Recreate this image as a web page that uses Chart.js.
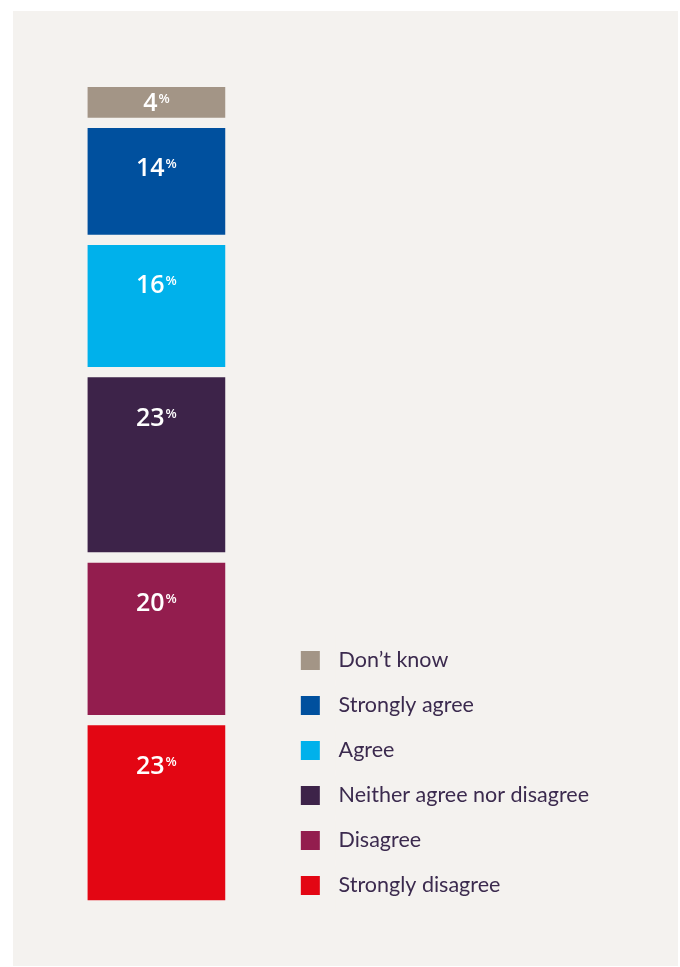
<!DOCTYPE html>
<html>
<head>
<meta charset="utf-8">
<script src="https://cdn.jsdelivr.net/npm/chart.js@4"></script>
<style>
body { margin: 0; background: #fff; }
#panel { position: absolute; left: 13px; top: 11px; width: 665px; height: 955px; background: #f4f2ef; }
</style>
</head>
<body>
<div id="panel"><canvas id="chart" width="665" height="955"></canvas></div>
<script>
const categories = ['All respondents']
const answers = ['Don’t know', 'Strongly agree', 'Agree', 'Neither agree nor disagree', 'Disagree', 'Strongly disagree']
const shares = [4, 14, 16, 23, 20, 23]
const colors = ['#a39586', '#00509e', '#00b1eb', '#3d2349', '#931d4e', '#e30613']
const gap = 1.45 // space between segments, in % units

// floating bars, stacked bottom-up with a gap between each
const ranges = []
let base = 0
for (let i = shares.length - 1; i >= 0; i--) {
    ranges[i] = [base, base + shares[i]]
    base += shares[i] + gap
}
const yMax = base - gap

const bg = '#f4f2ef'

const pctLabels = {
    id: 'pctLabels',
    afterDatasetsDraw(chart) {
        const ctx = chart.ctx
        chart.data.datasets.forEach((ds, i) => {
            const bar = chart.getDatasetMeta(i).data[0]
            const h = bar.base - bar.y
            const num = String(shares[i])
            ctx.save()
            ctx.fillStyle = '#fff'
            ctx.textBaseline = 'alphabetic'
            ctx.font = '600 25px "Open Sans"'
            const nw = ctx.measureText(num).width
            ctx.font = '600 13px "Open Sans"'
            const pw = ctx.measureText('%').width
            const x0 = bar.x - (nw + pw + 1) / 2
            const y = h < 50 ? bar.y + h / 2 + 9 : bar.y + 48
            ctx.font = '600 25px "Open Sans"'
            ctx.textAlign = 'left'
            ctx.fillText(num, x0, y)
            ctx.font = '600 13px "Open Sans"'
            ctx.fillText('%', x0 + nw + 1, y - 8)
            ctx.restore()
        })
    }
}

new Chart(document.getElementById('chart'), {
    type: 'bar',
    data: {
        labels: categories,
        datasets: answers.map((a, i) => ({
            label: a,
            data: [ranges[i]],
            backgroundColor: colors[i],
            borderWidth: 0,
            grouped: false,
            barThickness: 137
        }))
    },
    options: {
        responsive: false,
        animation: false,
        layout: { padding: { top: 76, bottom: 53, left: 17, right: 79 } },
        scales: {
            x: { display: false },
            y: { display: false, min: -1.72, max: yMax }
        },
        plugins: {
            tooltip: { enabled: false },
            legend: {
                position: 'right',
                align: 'end',
                maxWidth: 400,
                labels: {
                    boxWidth: 35,
                    boxHeight: 35,
                    padding: 10,
                    color: '#3b2a4e',
                    font: { family: 'Lato', size: 21.5 },
                    generateLabels(chart) {
                        return chart.data.datasets.map((ds, i) => ({
                            text: ds.label,
                            fillStyle: ds.backgroundColor,
                            strokeStyle: bg,
                            lineWidth: 16,
                            fontColor: '#3b2a4e',
                            datasetIndex: i
                        }))
                    }
                }
            }
        }
    },
    plugins: [pctLabels]
})
</script>
</body>
</html>
